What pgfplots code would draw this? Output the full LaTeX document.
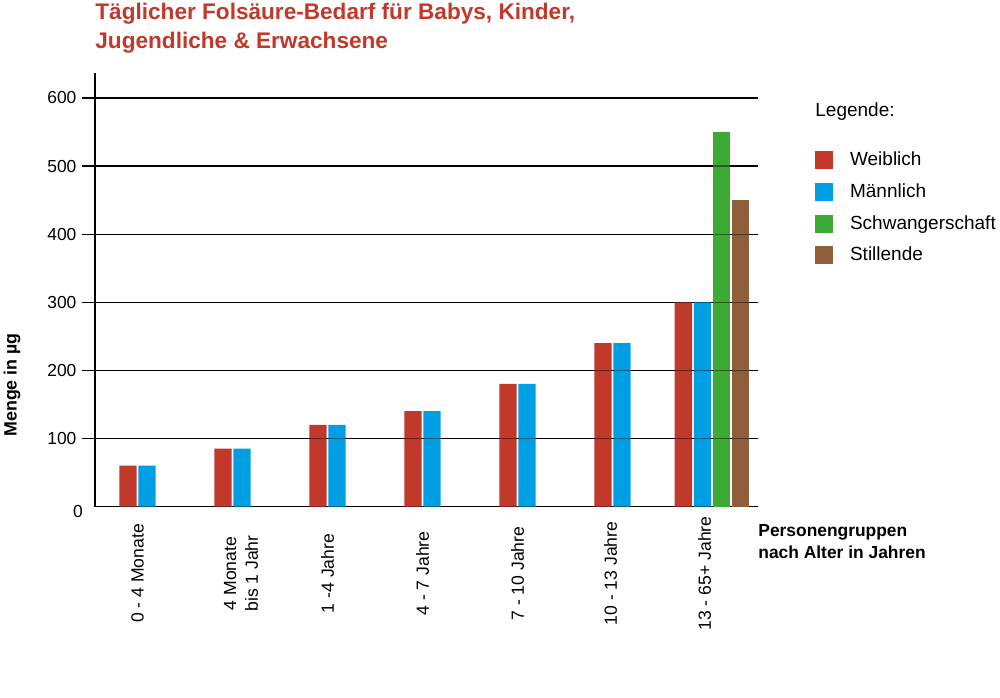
\documentclass[border=0pt]{standalone}
\usepackage{fontspec}
\setmainfont{Liberation Sans}
\usepackage{pgfplots}
\pgfplotsset{compat=1.18}
\definecolor{cred}{RGB}{192,57,43}
\definecolor{cblue}{RGB}{0,159,227}
\definecolor{cgreen}{RGB}{61,170,53}
\definecolor{cbrown}{RGB}{143,94,58}
\pgfplotsset{
  mysq/.style={legend image code/.code={\fill[##1] (0pt,-4.5pt) rectangle (9pt,4.5pt);}},
}
\begin{document}
\begin{tikzpicture}
\path[use as bounding box] (0,0) rectangle (500pt,348.5pt);
\begin{axis}[
  scale only axis, width=331.25pt, height=216.75pt,
  at={(47.5pt,95.25pt)}, anchor=south west,
  xmin=-0.447, xmax=6.526, ymin=0, ymax=636.7,
  axis x line=bottom, axis y line=left,
  axis line style={-, line width=0.75pt, black},
  ytick={100,200,...,600},
  extra y ticks={0},
  extra y tick style={tick style={draw=none}, yticklabel style={xshift=3.2pt, yshift=-2.6pt}},
  ymajorgrids, major grid style={black, line width=0.65pt},
  tick align=outside, major tick length=6.5pt,
  ytick style={black, line width=0.65pt},
  xtick style={draw=none},
  xtick={0,1.09,2,3,4,4.98,5.97},
  xticklabels={0 - 4 Monate,{4 Monate\\bis 1 Jahr},1 -4 Jahre,4 - 7 Jahre,7 - 10 Jahre,10 - 13 Jahre,13 - 65+ Jahre},
  xticklabel style={rotate=90, anchor=center, align=center, font=\fontsize{8.8}{10.8}\selectfont, inner sep=0pt},
  xticklabel shift=27pt,
  yticklabel style={font=\fontsize{8.7}{10.4}\selectfont, anchor=east, inner sep=0pt, xshift=-2.6pt},
  /pgf/number format/assume math mode=true,
  ylabel={Menge in µg},
  ylabel style={at={(rel axis cs:-0.1182,0.2803)}, anchor=base, font=\fontsize{8.9}{10.7}\selectfont\bfseries},
  legend style={at={(rel axis cs:1.0858,0.8286)}, anchor=north west, draw=none, fill=none, inner sep=0pt,
    row sep=3.5pt, column sep=6.65pt,
    font=\fontsize{9.5}{11.4}\selectfont},
  legend cell align=left,
]
\addplot[ybar, bar shift=0pt, bar width=0.183, fill=cred, draw=none, mysq] coordinates {(-0.1,60) (0.9,85) (1.9,120) (2.9,140) (3.9,180) (4.9,240) (5.745,300)};
\addlegendentry{Weiblich}
\addplot[ybar, bar shift=0pt, bar width=0.183, fill=cblue, draw=none, mysq] coordinates {(0.1,60) (1.1,85) (2.1,120) (3.1,140) (4.1,180) (5.1,240) (5.947,300)};
\addlegendentry{Männlich}
\addplot[ybar, bar shift=0pt, bar width=0.183, fill=cgreen, draw=none, mysq] coordinates {(6.149,550)};
\addlegendentry{Schwangerschaft}
\addplot[ybar, bar shift=0pt, bar width=0.183, fill=cbrown, draw=none, mysq] coordinates {(6.349,450)};
\addlegendentry{Stillende}
\pgfplotsinvokeforeach{100,200,300,400,500}{\draw[black, opacity=0.45, line width=0.65pt] (axis cs:-0.447,#1) -- (axis cs:6.526,#1);}
\end{axis}
\node[anchor=base west, text=cred, font=\fontsize{11.3}{14}\selectfont\bfseries, inner sep=0pt] at (47.5pt,338.5pt) {Täglicher Folsäure-Bedarf für Babys, Kinder,};
\node[anchor=base west, text=cred, font=\fontsize{11.3}{14}\selectfont\bfseries, inner sep=0pt] at (47.5pt,324.35pt) {Jugendliche \& Erwachsene};
\node[anchor=base west, font=\fontsize{9.5}{11.4}\selectfont, inner sep=0pt] at (407.5pt,290pt) {Legende:};
\node[anchor=base west, font=\fontsize{8.7}{11}\selectfont\bfseries, inner sep=0pt] at (379pt,80.5pt) {Personengruppen};
\node[anchor=base west, font=\fontsize{8.7}{11}\selectfont\bfseries, inner sep=0pt] at (379pt,69.5pt) {nach Alter in Jahren};
\end{tikzpicture}
\end{document}
